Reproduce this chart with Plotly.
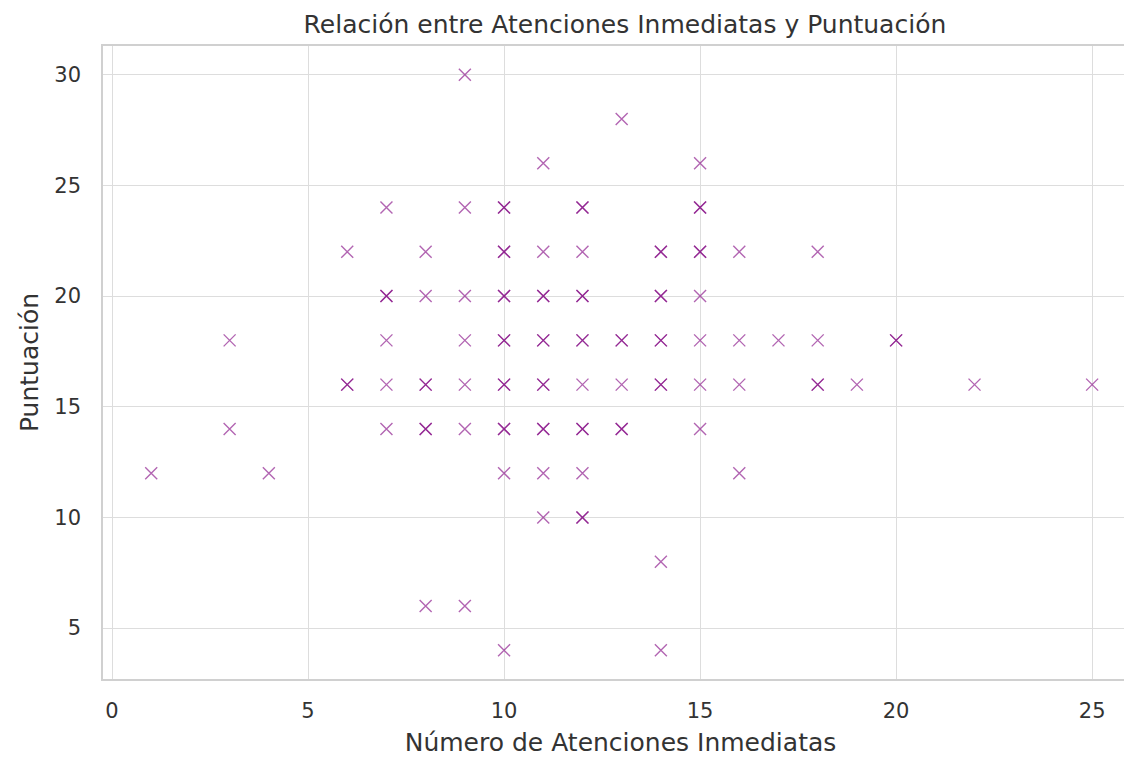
import plotly.graph_objects as go

# Datos (los repetidos corresponden a las cruces más oscuras)
atenciones = [
    9,
    13,
    11, 15,
    7, 9, 10, 10, 12, 12, 15, 15,
    6, 8, 10, 10, 11, 12, 14, 14, 15, 15, 16, 18,
    7, 7, 8, 9, 10, 10, 11, 11, 12, 12, 14, 14, 15,
    3, 7, 9, 10, 10, 11, 11, 12, 12, 13, 13, 14, 14, 15, 16, 17, 18, 20, 20,
    6, 6, 7, 8, 8, 9, 10, 10, 11, 11, 12, 13, 14, 14, 15, 16, 18, 18, 19, 22, 25,
    3, 7, 8, 8, 9, 10, 10, 11, 11, 12, 12, 13, 13, 15,
    1, 4, 10, 11, 12, 16,
    11, 12, 12,
    14,
    8, 9,
    10, 14,
]
puntuacion = [
    30,
    28,
    26, 26,
    24, 24, 24, 24, 24, 24, 24, 24,
    22, 22, 22, 22, 22, 22, 22, 22, 22, 22, 22, 22,
    20, 20, 20, 20, 20, 20, 20, 20, 20, 20, 20, 20, 20,
    18, 18, 18, 18, 18, 18, 18, 18, 18, 18, 18, 18, 18, 18, 18, 18, 18, 18, 18,
    16, 16, 16, 16, 16, 16, 16, 16, 16, 16, 16, 16, 16, 16, 16, 16, 16, 16, 16, 16, 16,
    14, 14, 14, 14, 14, 14, 14, 14, 14, 14, 14, 14, 14, 14,
    12, 12, 12, 12, 12, 12,
    10, 10, 10,
    8,
    6, 6,
    4, 4,
]

texto = "#333333"
fuente = "DejaVu Sans"

fig = go.Figure(
    go.Scatter(
        x=atenciones,
        y=puntuacion,
        mode="markers",
        marker=dict(
            symbol="x-thin",
            size=12,
            color="purple",
            opacity=0.6,
            line=dict(width=1.4, color="purple"),
        ),
        showlegend=False,
    )
)

ejes = dict(
    showline=True,
    mirror=True,
    linecolor="#d0d0d0",
    linewidth=1.5,
    showgrid=True,
    gridcolor="#dddddd",
    gridwidth=1.3,
    zeroline=False,
    ticks="",
    tickfont=dict(family=fuente, size=21, color=texto),
)

fig.update_xaxes(
    **ejes,
    range=[-0.23, 26.17],
    tickvals=[0, 5, 10, 15, 20, 25],
    ticklabelstandoff=12,
    title=dict(text="Número de Atenciones Inmediatas", font=dict(family=fuente, size=25, color=texto), standoff=12),
)
fig.update_yaxes(
    **ejes,
    range=[2.7, 31.3],
    tickvals=[5, 10, 15, 20, 25, 30],
    ticklabelstandoff=16,
    title=dict(text="Puntuación", font=dict(family=fuente, size=25, color=texto), standoff=9),
)

# la página añade 8 px de margen al cuerpo: se compensa aquí
fig.update_layout(
    width=1132,
    height=760,
    plot_bgcolor="white",
    paper_bgcolor="white",
    margin=dict(l=95, r=0, t=38, b=89),
    title=dict(
        text="Relación entre Atenciones Inmediatas y Puntuación",
        x=0.545,
        xanchor="center",
        y=0.979,
        yanchor="middle",
        font=dict(family=fuente, size=25, color=texto),
    ),
)

fig.write_html("out.html")
